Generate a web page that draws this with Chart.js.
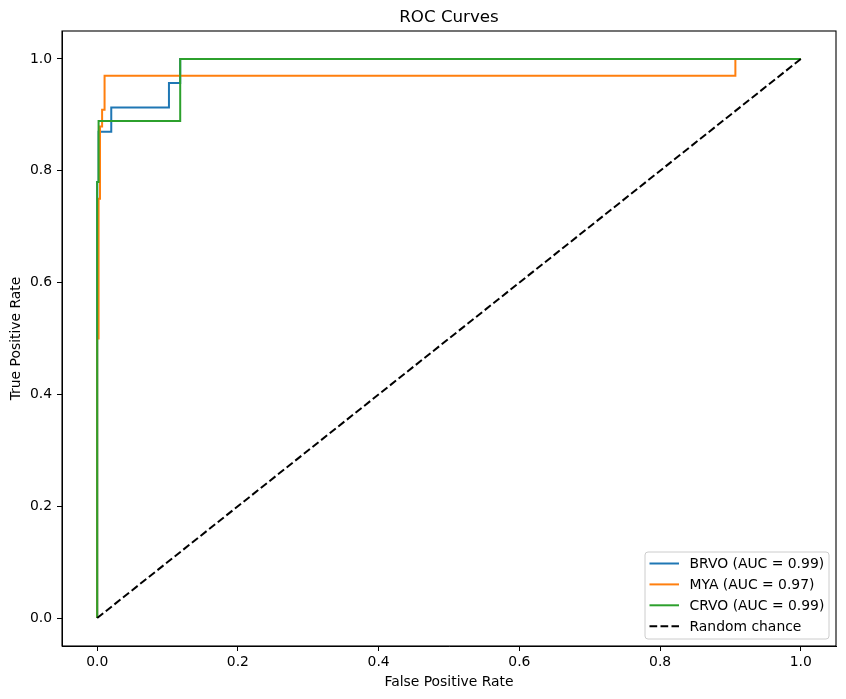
<!DOCTYPE html>
<html>
<head>
<meta charset="utf-8">
<script src="https://cdn.jsdelivr.net/npm/chart.js@4.4.0/dist/chart.umd.min.js"></script>
<style>
  body { margin: 0; background: #fff; }
  #wrap { width: 846px; height: 699px; }
</style>
</head>
<body>
<div id="wrap"><canvas id="roc" width="846" height="699"></canvas></div>
<script>
// values
var brvoFpr = [0, 0, 0.002, 0.002, 0.020, 0.020, 0.102, 0.102, 0.118, 0.118, 1];
var brvoTpr = [0, 0.78, 0.78, 0.870, 0.870, 0.913, 0.913, 0.957, 0.957, 1, 1];

var myaFpr = [0, 0, 0.002, 0.002, 0.004, 0.004, 0.007, 0.007, 0.0105, 0.0105, 0.907, 0.907, 1];
var myaTpr = [0, 0.5, 0.5, 0.75, 0.75, 0.879, 0.879, 0.909, 0.909, 0.970, 0.970, 1, 1];

var crvoFpr = [0, 0, 0.002, 0.002, 0.118, 0.118, 1];
var crvoTpr = [0, 0.78, 0.78, 0.889, 0.889, 1, 1];

var chanceFpr = [0, 1];
var chanceTpr = [0, 1];

var seriesLabels = ['BRVO (AUC = 0.99)', 'MYA (AUC = 0.97)', 'CRVO (AUC = 0.99)', 'Random chance'];
var tickValues = [0, 0.2, 0.4, 0.6, 0.8, 1.0];

var FONT = 'DejaVu Sans';

function toPoints(xs, ys) {
    return xs.map(function(x, i) { return {x: x, y: ys[i]}; });
}

// order: higher number is drawn first (underneath), like plotting order in matplotlib
function lineSet(label, xs, ys, color, order, dash) {
    return {
        label: label,
        data: toPoints(xs, ys),
        showLine: true,
        order: order,
        borderColor: color,
        backgroundColor: color,
        borderWidth: 2,
        borderDash: dash || [],
        pointRadius: 0,
        pointHoverRadius: 0,
        tension: 0,
        fill: false
    };
}

// frame, title and legend box like matplotlib
var mplDecor = {
    id: 'mplDecor',
    afterDatasetsDraw: function(chart) {
        var ctx = chart.ctx;
        var a = chart.chartArea;
        ctx.save();
        ctx.strokeStyle = '#000';
        ctx.lineWidth = 1.1;
        ctx.strokeRect(a.left, a.top, a.right - a.left, a.bottom - a.top);

        ctx.fillStyle = '#000';
        ctx.font = '16.7px "' + FONT + '"';
        ctx.textAlign = 'center';
        ctx.textBaseline = 'alphabetic';
        ctx.fillText('ROC Curves', (a.left + a.right) / 2, 21.7);

        // legend
        var bx = 645, by = 552, bw = 184, bh = 87, r = 3;
        ctx.beginPath();
        ctx.moveTo(bx + r, by);
        ctx.arcTo(bx + bw, by, bx + bw, by + bh, r);
        ctx.arcTo(bx + bw, by + bh, bx, by + bh, r);
        ctx.arcTo(bx, by + bh, bx, by, r);
        ctx.arcTo(bx, by, bx + bw, by, r);
        ctx.closePath();
        ctx.fillStyle = 'rgba(255,255,255,0.8)';
        ctx.fill();
        ctx.strokeStyle = '#cccccc';
        ctx.lineWidth = 1;
        ctx.stroke();

        ctx.font = '13.9px "' + FONT + '"';
        ctx.textAlign = 'left';
        ctx.textBaseline = 'middle';
        chart.data.datasets.forEach(function(ds, i) {
            var y = 563.5 + i * 20.9;
            ctx.beginPath();
            ctx.setLineDash(ds.borderDash);
            ctx.strokeStyle = ds.borderColor;
            ctx.lineWidth = 2;
            ctx.moveTo(649.5, y);
            ctx.lineTo(679, y);
            ctx.stroke();
            ctx.setLineDash([]);
            ctx.fillStyle = '#000';
            ctx.fillText(ds.label, 689.5, y + 1);
        });
        ctx.restore();
    }
};

new Chart(document.getElementById('roc'), {
    type: 'scatter',
    data: {
        datasets: [
            lineSet(seriesLabels[0], brvoFpr, brvoTpr, '#1f77b4', 4),
            lineSet(seriesLabels[1], myaFpr, myaTpr, '#ff7f0e', 3),
            lineSet(seriesLabels[2], crvoFpr, crvoTpr, '#2ca02c', 2),
            lineSet(seriesLabels[3], chanceFpr, chanceTpr, '#000000', 1, [7.7, 3.3])
        ]
    },
    options: {
        responsive: false,
        animation: false,
        devicePixelRatio: 1,
        layout: { padding: { top: 31, right: 10, left: 0, bottom: 0 } },
        plugins: {
            legend: { display: false },
            title: { display: false },
            tooltip: { enabled: false }
        },
        scales: {
            x: {
                type: 'linear',
                min: -0.05,
                max: 1.05,
                afterBuildTicks: function(scale) {
                    scale.ticks = tickValues.map(function(v) { return {value: v}; });
                },
                afterFit: function(scale) { scale.height = 53; },
                grid: { display: true, drawOnChartArea: false, drawTicks: true, tickLength: 5, color: '#000', lineWidth: 1 },
                border: { display: true, color: '#000', width: 1 },
                ticks: {
                    color: '#000',
                    padding: 3,
                    maxRotation: 0,
                    font: { family: FONT, size: 13.9 },
                    callback: function(v) { return Number(v).toFixed(1); }
                },
                title: {
                    display: true,
                    text: 'False Positive Rate',
                    color: '#000',
                    font: { family: FONT, size: 13.9 },
                    padding: { top: 0, bottom: 8 }
                }
            },
            y: {
                type: 'linear',
                min: -0.05,
                max: 1.05,
                afterBuildTicks: function(scale) {
                    scale.ticks = tickValues.map(function(v) { return {value: v}; });
                },
                afterFit: function(scale) { scale.width = 62; },
                grid: { display: true, drawOnChartArea: false, drawTicks: true, tickLength: 5, color: '#000', lineWidth: 1 },
                border: { display: true, color: '#000', width: 1 },
                ticks: {
                    color: '#000',
                    padding: 5,
                    font: { family: FONT, size: 13.9 },
                    callback: function(v) { return Number(v).toFixed(1); }
                },
                title: {
                    display: true,
                    text: 'True Positive Rate',
                    color: '#000',
                    font: { family: FONT, size: 13.9 },
                    padding: { top: 8, bottom: 0 }
                }
            }
        }
    },
    plugins: [mplDecor]
});
</script>
</body>
</html>
